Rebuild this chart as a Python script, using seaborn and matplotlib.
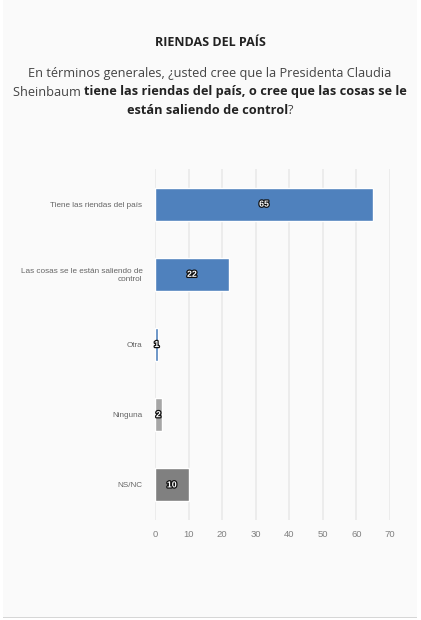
import matplotlib
matplotlib.use('Agg')
import matplotlib.pyplot as plt
import matplotlib.patheffects as pe
from matplotlib.patches import Rectangle
import seaborn as sns
import pandas as pd

# Data
categories = ['Tiene las riendas del país',
              'Las cosas se le están saliendo de\ncontrol',
              'Otra', 'Ninguna', 'NS/NC']
values = [65, 22, 1, 2, 10]
bar_colors = ['#4f81bd', '#4f81bd', '#4f81bd', '#a6a6a6', '#808080']
x_ticks = [0, 10, 20, 30, 40, 50, 60, 70]

title = 'RIENDAS DEL PAÍS'
subtitle_lines = [
    [('En términos generales, ¿usted cree que la Presidenta Claudia', 'normal')],
    [('Sheinbaum ', 'normal'), ('tiene las riendas del país, o cree que las cosas se le', 'bold')],
    [('están saliendo de control', 'bold'), ('?', 'normal')],
]

df = pd.DataFrame({'categoria': categories, 'valor': values})

sns.set_style('white')
plt.rcParams['font.family'] = ['Liberation Sans', 'DejaVu Sans']

fig = plt.figure(figsize=(4.21, 6.20), dpi=100)
fig.patch.set_facecolor('white')
# card background with thin border at the bottom
fig.patches.append(Rectangle((3 / 421, 3 / 620), 414 / 421, 617 / 620, transform=fig.transFigure,
                             facecolor='#fafafa', edgecolor='none', zorder=-2))
fig.patches.append(Rectangle((3 / 421, 2 / 620), 414 / 421, 1.5 / 620, transform=fig.transFigure,
                             facecolor='#d6d6d6', edgecolor='none', zorder=-1))

ax = fig.add_axes([155 / 421, 1 - 520 / 620, 235 / 421, 351 / 620])
ax.set_facecolor('#fafafa')

sns.barplot(data=df, y='categoria', x='valor', hue='categoria', palette=bar_colors,
            legend=False, width=0.47, ax=ax, saturation=1)

ax.set_xlim(0, 70)
ax.set_xticks(x_ticks)
ax.grid(axis='x', color='#ebebeb', linewidth=1.3)
ax.set_axisbelow(True)
for s in ax.spines.values():
    s.set_visible(False)
ax.set_xlabel('')
ax.set_ylabel('')
ax.tick_params(axis='x', length=0, pad=7, labelsize=6.8, labelcolor='#808080')
ax.tick_params(axis='y', length=0, pad=9, labelsize=5.9, labelcolor='#666666')

for bar, v in zip(ax.patches, values):
    ax.text(v / 2, bar.get_y() + bar.get_height() / 2, str(v), ha='center', va='center',
            fontsize=6.3, fontweight='bold', color='white',
            path_effects=[pe.withStroke(linewidth=1.8, foreground='#111111')])

# title
fig.text(0.5, 1 - 42 / 620, title, ha='center', va='center', fontsize=9,
         fontweight='bold', color='#222222', family=['Open Sans', 'DejaVu Sans'])

# subtitle with mixed weights, placed piece by piece
fig.canvas.draw()
renderer = fig.canvas.get_renderer()
line_y = [73, 92, 110]
for pieces, py in zip(subtitle_lines, line_y):
    texts = []
    for txt, w in pieces:
        col = '#222222' if w == 'bold' else '#444444'
        t = fig.text(0, 1 - py / 620, txt, ha='left', va='center', fontsize=9.2,
                     fontweight=w, color=col, family=['Open Sans', 'DejaVu Sans'])
        texts.append(t)
    widths = [t.get_window_extent(renderer).width for t in texts]
    x = 210 - sum(widths) / 2
    for t, wd in zip(texts, widths):
        t.set_x(x / 421)
        x += wd

fig.savefig('out.png', dpi=100, facecolor=fig.get_facecolor())
